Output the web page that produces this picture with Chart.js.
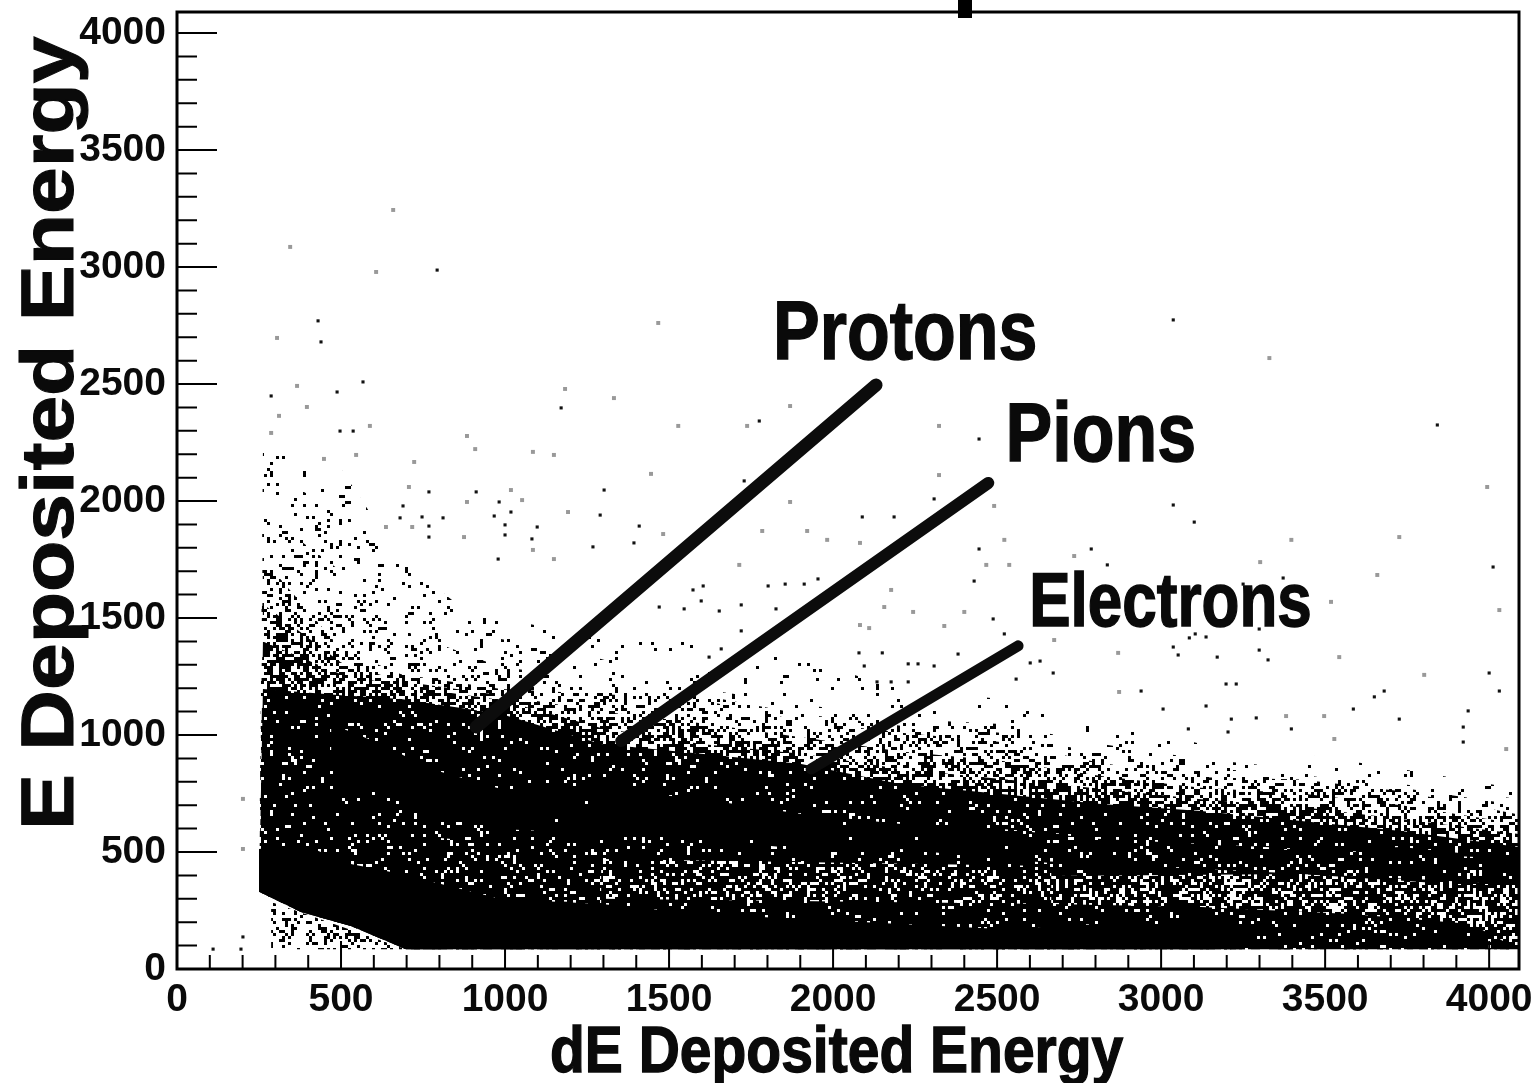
<!DOCTYPE html>
<html><head><meta charset="utf-8">
<style>html,body{margin:0;padding:0;background:#fff}canvas{display:block}</style>
<script src="https://cdn.jsdelivr.net/npm/chart.js@4"></script>
</head><body><canvas id="c" width="1533" height="1083"></canvas>
<script>
// Tick values and labels
const xTicks=[0,500,1000,1500,2000,2500,3000,3500,4000];
const yTicks=[0,500,1000,1500,2000,2500,3000,3500,4000];
const minorStep=100;
const xTitle="dE Deposited Energy";
const yTitle="E Deposited Energy";
// Particle pointer lines (dE, E)
const protonX=[912,2131],protonY=[1034,2496];
const pionX=[1354,2473],pionY=[974,2077];
const electronX=[1933,2564],electronY=[855,1381];
// Envelopes of the dense point cloud at each density level
const sharedX=[262,500,683,988,1293,1598,1903,2207,2512,2817,3122,3427,3732,4090];
const baseX=[4090,698,530,378,250],baseY=[84,84,184,244,330];
const sparseTop=[2137,1950,1780,1500,1410,1410,1325,1197,1154,1068,962,919,855,769];
const haloTop=[2222,2137,1750,1410,1325,1197,1133,1068,1047,962,898,855,791,727];
const midHaloTop=[1950,1700,1450,1290,1240,1170,1090,1040,1010,920,860,830,775,700];
const mediumTop=[1752,1368,1260,1197,1175,1150,1060,1010,970,880,820,810,760,660];
const midThickTop=[1560,1310,1230,1170,1100,1050,990,930,890,825,775,750,700,620];
const thickTop=[1400,1260,1210,1150,1030,962,920,855,812,770,726,692,641,577];
const denseTop=[1197,1170,1154,1090,962,920,876,790,748,705,675,632,590,521];
const upperRidgeX=[470,622,774,988,1293,1598,1903,2207,2512,2817,3122,3427,3732,4090];
const upperRidgeTop=[1047,962,855,769,769,727,662,620,598,556,534,504,521,470];
const upperRidgeBottom=[812,748,662,598,577,556,513,513,470,436,427,406,385,363];
const lowerRidgeX=[250,378,530,683,988,1293,1598,1903,2207,2512,2817,3214];
const lowerRidgeTop=[513,534,449,406,299,278,235,214,192,171,192,192];
const lowerRidgeBaseX=[3214,698,530,378,250],lowerRidgeBaseY=[84,84,184,244,330];
const wedgeX=[287,698,287],wedgeY=[286,84,84];
const pocketX=[2665,3427,3884,4090,4090,3945,3579,3122,2665];
const pocketY=[397,406,363,363,84,192,235,265,278];
const midPocketX=[1293,2665,2665,1293],midPocketY=[470,440,278,300];
const leftPocketX=[470,1293,1293,600],leftPocketY=[600,500,280,330];
const ridgeSpeckX=[2512,3122,4090,4090,3122,2512],ridgeSpeckY=[598,534,470,363,427,470];
// Isolated points
const faintX=[659,345,607,305,366,396,311,287,588,884,1183,1332,1467,909,1085,1149,723,546,448,1445,1018,707,1052,884,1192,637,717,875,1085,1149,1528,1738,1869,2323,2323,1869,2491,1784,1921,1482,1982,2082,2522,1714,2467,2537,2735,2177,2156,2244,2400,2082,2110,2339,2674,3330,3994,3397,3726,3302,3659,3518,4031,2869,3543,3802,2872,3381,3497,3528,4052,201,201];
const faintY=[3244,3086,2979,2697,2492,2402,2364,2291,2321,2278,2479,2440,2761,2222,2210,2197,2167,2197,2180,2116,2047,2060,2004,1996,1953,1889,1889,1846,1791,1752,2321,2321,2406,2321,2111,1996,1979,1872,1872,1859,1834,1821,1834,1727,1727,1727,1765,1620,1547,1526,1526,1470,1457,1466,1406,2611,2060,1834,1846,1739,1684,1569,1534,1351,1333,1257,1184,1081,1081,983,940,513,727];
const darkX=[793,430,439,488,287,497,537,567,1171,1302,768,912,1290,1018,967,982,1098,1082,1409,1393,768,768,811,747,680,689,1000,1000,1268,979,1775,2445,1729,2308,2089,2186,2445,2430,2488,2522,2631,2601,2671,2558,2229,2259,2150,2079,2095,2308,2381,2134,2177,2229,1802,1854,1912,1954,1604,1573,1598,1653,1720,1826,1720,1659,1622,1546,1470,3037,3842,3037,3101,2787,2836,4012,3372,3250,3299,3104,3137,3086,3037,3052,3171,3299,3326,4000,4031,3936,3586,3650,3680,3921,3921,3726,3397,3290,3214,3198,3229,3137,3006,2939,3204,3083,201,195,110];
const darkY=[2987,2770,2680,2466,2449,2299,2299,2509,2398,2047,2039,2039,1940,1953,1936,1996,1889,1838,1893,1821,1893,1846,1928,1932,1928,1979,1898,1855,1804,1752,2342,2265,2086,2009,1932,1932,1795,1658,1496,1432,1316,1308,1265,1239,1304,1304,1351,1351,1295,1295,1346,1227,1227,1227,1637,1645,1645,1667,1637,1620,1573,1530,1556,1539,1445,1368,1333,1539,1547,2774,2325,1983,1910,1795,1727,1718,1671,1645,1453,1432,1419,1415,1376,1342,1333,1363,1321,1265,1188,1103,1111,1163,1188,1034,970,1068,1026,1073,1068,1218,1218,1124,1111,1188,1013,1026,137,85,85];
// Text annotations: label, dE of left edge, E of baseline
const annotationLabels=["Protons","Pions","Electrons"];
const annotationX=[1817,2526,2598];
const annotationY=[2607,2170,1466];
const annotationSizes=[70,70,62];

const pts=(xs,ys)=>xs.map((x,i)=>({x,y:ys[i]}));
const rev=a=>a.slice().reverse();
function closedOverBase(top){return pts(sharedX.concat(baseX),top.concat(baseY));}
function tile(density,color,salt){
  const c=document.createElement('canvas');const n=128,s=3;c.width=c.height=n*s;
  const g=c.getContext('2d');g.fillStyle=color;
  for(let i=0;i<n;i++)for(let j=0;j<n;j++){
    let h=Math.imul(i+salt,374761393)+Math.imul(j+salt*7,668265263)|0;
    h=Math.imul(h^(h>>>13),1274126177);h=(h^(h>>>16))>>>0;
    if((h%10000)/10000<density)g.fillRect(i*s,j*s,s,s);
  }
  return g.createPattern(c,'repeat');
}
const area=(data,color)=>({type:'scatter',data,showLine:true,fill:'shape',backgroundColor:color,borderWidth:0,pointRadius:0,tension:0,clip:true});
const pointer=(xs,ys,w)=>({type:'scatter',data:pts(xs,ys),showLine:true,fill:false,borderColor:'#0c0c0c',borderWidth:w,borderCapStyle:'round',pointRadius:0});
const dots=(xs,ys,color,r)=>({type:'scatter',data:pts(xs,ys),showLine:false,pointStyle:'rect',pointRadius:r,pointHoverRadius:r,backgroundColor:color,borderWidth:0});

const datasets=[
 pointer(protonX,protonY,13),
 pointer(pionX,pionY,12),
 pointer(electronX,electronY,11),
 dots(darkX,darkY,'#111',2.2),
 dots(faintX,faintY,'#999',2.8),
 area(pts(ridgeSpeckX,ridgeSpeckY),tile(.07,'#fff',29)),
 area(pts(upperRidgeX.concat(rev(upperRidgeX)),upperRidgeTop.concat(rev(upperRidgeBottom))),tile(.97,'#000',11)),
 area(pts(lowerRidgeX.concat(lowerRidgeBaseX),lowerRidgeTop.concat(lowerRidgeBaseY)),'#000'),
 area(pts(pocketX,pocketY),tile(.28,'#fff',23)),
 area(pts(midPocketX,midPocketY),tile(.17,'#fff',31)),
 area(pts(leftPocketX,leftPocketY),tile(.07,'#fff',37)),
 area(closedOverBase(denseTop),tile(.85,'#000',5)),
 area(closedOverBase(thickTop),tile(.3,'#000',3)),
 area(closedOverBase(midThickTop),tile(.22,'#000',41)),
 area(closedOverBase(mediumTop),tile(.14,'#000',7)),
 area(closedOverBase(midHaloTop),tile(.07,'#000',43)),
 area(closedOverBase(haloTop),tile(.05,'#000',13)),
 area(closedOverBase(sparseTop),tile(.025,'#000',17)),
 area(pts(wedgeX,wedgeY),tile(.3,'#000',19))
];

const stretched=(ctx,text,x,y,size,sy,rot)=>{
  ctx.save();ctx.translate(x,y);if(rot)ctx.rotate(rot);ctx.scale(1,sy);
  ctx.font=`bold ${size}px "Liberation Sans"`;ctx.fillStyle='#0a0a0a';ctx.strokeStyle='#0a0a0a';ctx.lineWidth=1.2;ctx.textAlign='left';ctx.textBaseline='alphabetic';
  ctx.fillText(text,0,0);ctx.strokeText(text,0,0);ctx.restore();
};
const frame={id:'frame',afterDraw(ch){
  const {ctx,chartArea:a,scales:{x,y}}=ch;
  ctx.save();ctx.strokeStyle='#000';ctx.lineWidth=2;
  ctx.beginPath();
  for(let v=0;v<=x.max;v+=minorStep){const p=x.getPixelForValue(v);const l=v%500===0?28:14;ctx.moveTo(p,a.bottom);ctx.lineTo(p,a.bottom-l);}
  for(let v=0;v<=y.max;v+=minorStep){const p=y.getPixelForValue(v);const l=v%500===0?40:20;ctx.moveTo(a.left,p);ctx.lineTo(a.left+l,p);}
  ctx.stroke();
  ctx.lineWidth=3;ctx.strokeRect(a.left,a.top,a.width,a.height);
  ctx.fillStyle='#000';ctx.fillRect(958,0,14,18);
  ctx.restore();
  annotationLabels.forEach((t,i)=>stretched(ctx,t,x.getPixelForValue(annotationX[i]),y.getPixelForValue(annotationY[i]),annotationSizes[i],i===2?1.22:1.2));
  stretched(ctx,xTitle,550,1072,57,1.13);
  stretched(ctx,yTitle,73,830,84,.88,-Math.PI/2);
}};
const tickFont={family:'"Liberation Sans"',size:39,weight:'bold'};
new Chart(document.getElementById('c'),{
 type:'scatter',data:{datasets},plugins:[frame],
 options:{responsive:false,animation:false,events:[],
  layout:{padding:{top:12,right:14,left:0,bottom:0}},
  plugins:{legend:{display:false},title:{display:false},tooltip:{enabled:false}},
  scales:{
   x:{type:'linear',min:0,max:4091,grid:{display:false},border:{display:false},
    afterBuildTicks:s=>{s.ticks=xTicks.map(value=>({value}));},
    afterFit:s=>{s.height=114;s.paddingLeft=0;s.paddingRight=0;},
    ticks:{autoSkip:false,maxRotation:0,padding:0,color:'#0a0a0a',font:tickFont,callback:v=>String(v)}},
   y:{type:'linear',min:0,max:4090,grid:{display:false},border:{display:false},
    afterBuildTicks:s=>{s.ticks=yTicks.map(value=>({value}));},
    afterFit:s=>{s.width=177;s.paddingTop=0;s.paddingBottom=0;},
    ticks:{autoSkip:false,padding:3,color:'#0a0a0a',font:tickFont,callback:v=>String(v)}}
  }}
});
</script></body></html>
